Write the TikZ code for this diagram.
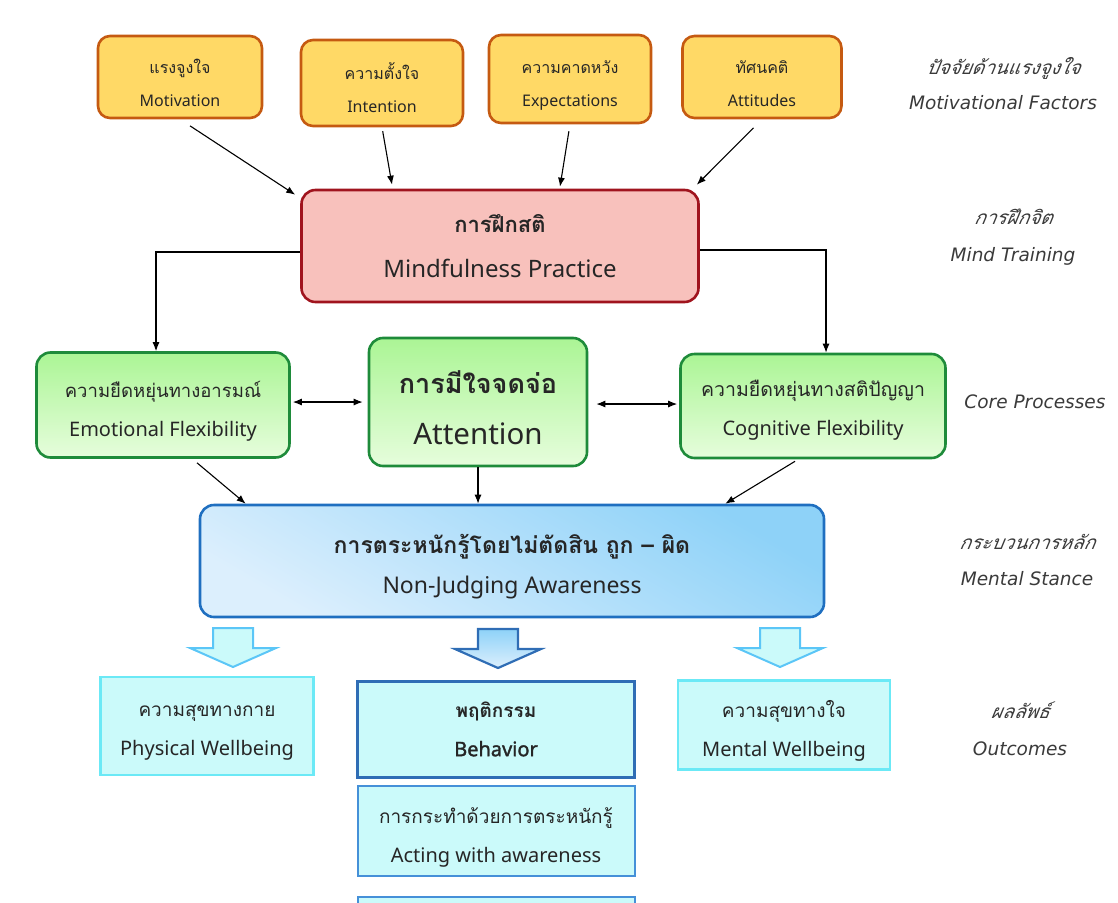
\documentclass[tikz,border=0pt]{standalone}
\usepackage{fontspec}
\setmainfont{Noto Sans}
\newfontfamily\sansbold[FakeBold=1.6]{Noto Sans}
\newfontfamily\thai[Script=Thai]{Loma}
\newfontfamily\thaisl[Script=Thai,FakeSlant=0.2]{Loma}
\newfontfamily\sidefont{DejaVu Sans}
\usetikzlibrary{arrows.meta,positioning,calc}
\definecolor{ink}{HTML}{262626}
\definecolor{orfill}{HTML}{FFD966}
\definecolor{ordraw}{HTML}{C55A11}
\definecolor{pkfill}{HTML}{F8C1BC}
\definecolor{pkdraw}{HTML}{A0141E}
\definecolor{grdraw}{HTML}{1E8B3A}
\definecolor{grtop}{HTML}{ABF595}
\definecolor{grbot}{HTML}{E6FDDC}
\definecolor{bldraw}{HTML}{1F6FC0}
\definecolor{bltop}{HTML}{8ED2F8}
\definecolor{blbot}{HTML}{DCEFFD}
\definecolor{cyfill}{HTML}{CBFAFA}
\definecolor{cydraw}{HTML}{6BE9F6}
\definecolor{bhdraw}{HTML}{2F6DB5}
\definecolor{acdraw}{HTML}{4590D8}
\definecolor{lbl}{HTML}{3A3A3A}
% taller first line, pushes a text block down
\newcommand\up[1]{\rule{0pt}{#1}}
\newcommand\blockdown[3]{%
  \begin{scope}[shift={(#2,#3)}]
    \draw[#1] (-20,0) -- (20,0) -- (20,20) -- (43,20) -- (0,39) -- (-43,20) -- (-20,20) -- cycle;
  \end{scope}}

\begin{document}
\begin{tikzpicture}[x=1pt,y=-1pt,
  factor/.style={draw=ordraw,fill=orfill,line width=2.6pt,rounded corners=12pt,minimum width=162pt,minimum height=84pt,align=center,text=ink,font=\fontsize{16}{33}\selectfont},
  train/.style={draw=pkdraw,fill=pkfill,line width=2.6pt,rounded corners=14pt,minimum width=397pt,minimum height=112pt,align=center,text=ink,font=\fontsize{24}{45}\selectfont},
  core/.style={draw=grdraw,top color=grtop,bottom color=grbot,line width=2.6pt,rounded corners=14pt,align=center,text=ink,font=\fontsize{20}{39}\selectfont},
  stance/.style={draw=bldraw,shading=axis,top color=bltop,bottom color=blbot,shading angle=-30,line width=2.6pt,rounded corners=14pt,align=center,text=ink,font=\fontsize{23}{40}\selectfont},
  outbox/.style={draw=cydraw,fill=cyfill,line width=2.6pt,align=center,text=ink,font=\fontsize{20}{39}\selectfont},
  side/.style={align=center,text=lbl,font=\fontsize{18.5}{37}\selectfont\sidefont\itshape},
  arr/.style={-{Latex[length=9pt,width=7pt]},line width=1.1pt,black},
  dbl/.style={{Latex[length=9pt,width=7pt]}-{Latex[length=9pt,width=7pt]},line width=1.1pt,black},
  lightarr/.style={draw=cydraw!85!blue,fill=cyfill,line width=2pt},
  darkarr/.style={draw=bhdraw,top color=bltop,bottom color=blbot,line width=2.2pt}]
  \useasboundingbox (0,0) rectangle (1118,902);
  \clip (0,0) rectangle (1118,902);

  % motivational factors
  \node[factor,minimum width=164pt,minimum height=82pt] (mot) at (180,77) {\up{26pt}{\thai แรงจูงใจ}\\Motivation};
  \node[factor,minimum height=86pt] (inten) at (382,83) {\up{26pt}{\thai ความตั้งใจ}\\Intention};
  \node[factor,minimum height=88pt] (expect) at (570,79) {\up{26pt}{\thai ความคาดหวัง}\\Expectations};
  \node[factor,minimum width=159pt,minimum height=82pt] (att) at (762,77) {\up{26pt}{\thai ทัศนคติ}\\Attitudes};

  % mind training
  \node[train] (practice) at (500,246) {{\thai\bfseries\fontsize{22}{45}\selectfont การฝึกสติ}\\Mindfulness Practice};

  % core processes
  \node[core,minimum width=253pt,minimum height=105pt] (emo) at (163,405) {\up{28pt}{\thai\fontsize{18.5}{39}\selectfont ความยืดหยุ่นทางอารมณ์}\\Emotional Flexibility};
  \node[core,minimum width=218pt,minimum height=128pt,font=\fontsize{29.5}{51}\selectfont] (attn) at (478,402) {\up{35pt}{\thai\bfseries\fontsize{27}{51}\selectfont การมีใจจดจ่อ}\\Attention};
  \node[core,minimum width=265pt,minimum height=104pt] (cog) at (813,406) {\up{25pt}{\thai\fontsize{19.5}{39}\selectfont ความยืดหยุ่นทางสติปัญญา}\\Cognitive Flexibility};

  % mental stance
  \node[stance,minimum width=624pt,minimum height=112pt] (aware) at (512,561) {\up{30pt}{\thai\bfseries\fontsize{23}{40}\selectfont การตระหนักรู้โดยไม่ตัดสิน ถูก – ผิด}\\Non-Judging Awareness};

  % outcomes
  \node[outbox,minimum width=213pt,minimum height=98pt] (phys) at (207,726) {\up{24pt}{\thai\fontsize{19}{39}\selectfont ความสุขทางกาย}\\Physical Wellbeing};
  \node[outbox,draw=bhdraw,line width=3pt,minimum width=277pt,minimum height=96pt] (behav) at (496,729) {{\thai\bfseries\fontsize{19}{39}\selectfont พฤติกรรม}\\{\sansbold Behavior}};
  \node[outbox,minimum width=212pt,minimum height=89pt] (mental) at (784,725) {\up{29pt}{\thai\fontsize{19}{39}\selectfont ความสุขทางใจ}\\Mental Wellbeing};
  \node[outbox,draw=acdraw,line width=2pt,minimum width=277pt,minimum height=90pt] (acting) at (496,831) {\up{28pt}{\thai\fontsize{19}{39}\selectfont การกระทำด้วยการตระหนักรู้}\\Acting with awareness};
  \node[outbox,draw=acdraw,line width=2pt,minimum width=277pt,minimum height=86pt] (next) at (496,940) {};

  % side labels
  \node[side,font=\fontsize{18.5}{35}\selectfont\sidefont\itshape] (lblmot) at (1003,84) {{\thaisl\fontsize{19}{35}\selectfont ปัจจัยด้านแรงจูงใจ}\\Motivational Factors};
  \node[side] (lbltrain) at (1013,237) {{\thaisl\fontsize{19}{37}\selectfont การฝึกจิต}\\Mind Training};
  \node[side] (lblcore) at (1035,402) {Core Processes};
  \node[side,font=\fontsize{18.5}{36}\selectfont\sidefont\itshape] (lblstance) at (1027,560) {{\thaisl\fontsize{19}{36}\selectfont กระบวนการหลัก}\\Mental Stance};
  \node[side] (lblout) at (1020,729) {{\thaisl\fontsize{19}{37}\selectfont ผลลัพธ์}\\Outcomes};

  % connectors
  \draw[arr,shorten <=12pt] (mot.south) -- ($(practice.north west)+(-5,6)$);
  \draw[arr,shorten <=4pt] (inten.south) -- ($(practice.north)+(-108,-4)$);
  \draw[arr,shorten <=7pt] (expect.south) -- ($(practice.north)+(60,-2)$);
  \draw[arr,shorten <=12pt] (att.south) -- ($(practice.north east)+(-3,-4)$);
  \draw[arr] ($(practice.west)+(0,6)$) -| ($(emo.north)+(-7,0)$);
  \draw[arr] ($(practice.east)+(0,4)$) -| ($(cog.north)+(13,0)$);
  \draw[dbl] ($(emo.east)+(2,-3)$) -- ($(attn.west)+(-5,0)$);
  \draw[dbl] ($(attn.east)+(8,2)$) -- ($(cog.west)+(-2,-2)$);
  \draw[arr] ($(emo.south)+(34,4)$) -- ($(aware.north west)+(47,0)$);
  \draw[arr] (attn.south) -- (attn.south |- aware.north);
  \draw[arr] ($(cog.south)+(-18,2)$) -- ($(aware.north east)+(-100,0)$);

  % block arrows
  \blockdown{lightarr}{233}{628}
  \blockdown{darkarr}{498}{629}
  \blockdown{lightarr}{780}{628}
\end{tikzpicture}
\end{document}
